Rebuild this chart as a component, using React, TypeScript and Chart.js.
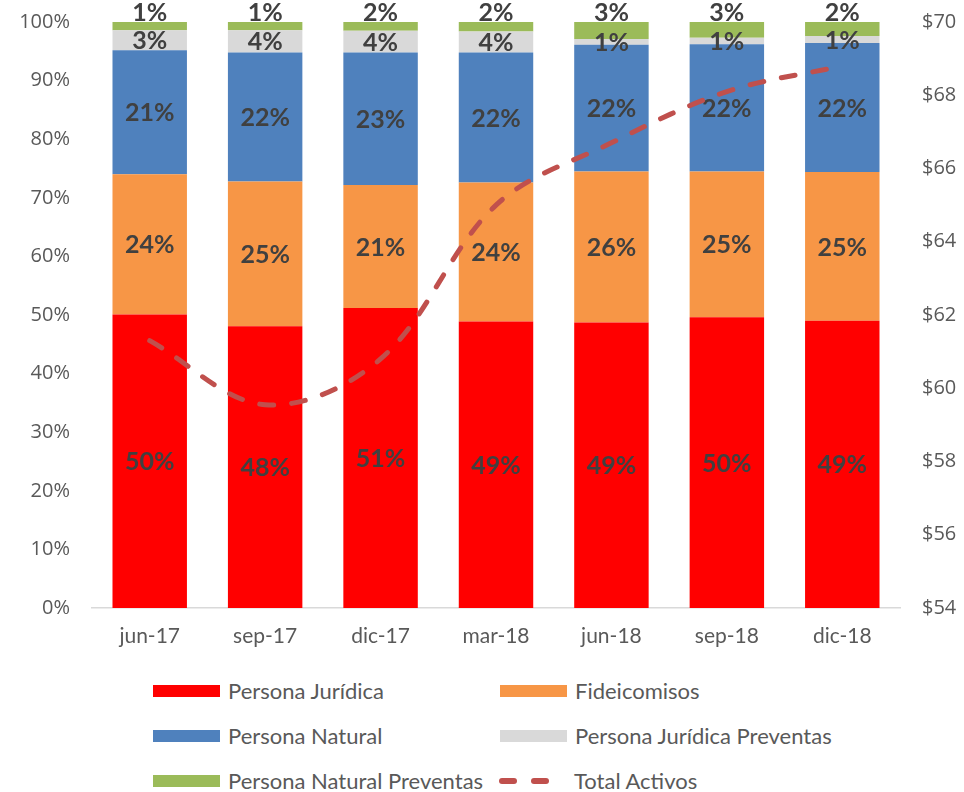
import React, { useEffect, useRef } from "react";
import { Chart, registerables } from "chart.js";
Chart.register(...registerables);

const categories = ["jun-17", "sep-17", "dic-17", "mar-18", "jun-18", "sep-18", "dic-18"];
const personaJuridica = [50.1, 48.1, 51.2, 48.9, 48.7, 49.6, 49.0];
const fideicomisos = [23.9, 24.7, 21.0, 23.7, 25.8, 24.9, 25.4];
const personaNatural = [21.2, 22.0, 22.6, 22.2, 21.6, 21.7, 22.0];
const pjPreventas = [3.4, 3.8, 3.7, 3.6, 1.0, 1.1, 1.2];
const pnPreventas = [1.4, 1.4, 1.5, 1.6, 2.9, 2.7, 2.4];
const totalActivos = [61.3, 59.55, 60.8, 65.0, 66.7, 68.1, 68.8];

const seriesNames = [
  "Persona Jurídica",
  "Fideicomisos",
  "Persona Natural",
  "Persona Jurídica Preventas",
  "Persona Natural Preventas",
];
const seriesColors = ["#FF0000", "#F79646", "#4F81BD", "#D9D9D9", "#9BBB59"];
const lineName = "Total Activos";
const lineColor = "#C0504D";

const LABEL_FONT = "bold 25px Lato, sans-serif";
const TEXT_FAMILY = "Lato, 'Open Sans', sans-serif";

const labelPlugin = {
  id: "segLabels",
  beforeDatasetDraw(chart: any, args: any) {
    if (args.meta.type !== "line") return;
    const ctx = chart.ctx;
    ctx.save();
    ctx.font = LABEL_FONT;
    ctx.fillStyle = "#404040";
    ctx.textAlign = "center";
    chart.data.datasets.forEach((ds: any, di: number) => {
      if (ds.type === "line") return;
      const meta = chart.getDatasetMeta(di);
      meta.data.forEach((el: any, i: number) => {
        const v = ds.data[i];
        const txt = Math.round(v) + "%";
        if (di === 4) {
          ctx.textBaseline = "alphabetic";
          ctx.fillText(txt, el.x, Math.min(el.y, el.base) - 1);
        } else {
          ctx.textBaseline = "middle";
          ctx.fillText(txt, el.x, (el.y + el.base) / 2 + 1);
        }
      });
    });
    ctx.restore();
  },
};

export default function App() {
  const ref = useRef<HTMLCanvasElement>(null);
  useEffect(() => {
    document.body.style.margin = "0";
    const datasets: any[] = [
      personaJuridica,
      fideicomisos,
      personaNatural,
      pjPreventas,
      pnPreventas,
    ].map((d, i) => ({
      type: "bar",
      label: seriesNames[i],
      data: d,
      backgroundColor: seriesColors[i],
      borderWidth: 0,
      yAxisID: "y",
      order: 1,
      categoryPercentage: 1,
      barPercentage: 0.645,
    }));
    datasets.push({
      type: "line",
      label: lineName,
      data: totalActivos,
      borderColor: lineColor,
      borderWidth: 5,
      borderDash: [14, 18],
      borderCapStyle: "round",
      tension: 0.35,
      pointRadius: 0,
      fill: false,
      yAxisID: "y1",
      order: 0,
    });
    const chart = new Chart(ref.current!, {
      type: "bar",
      data: { labels: categories, datasets },
      plugins: [labelPlugin],
      options: {
        responsive: false,
        animation: false,
        layout: { padding: { top: 22, bottom: 0, left: 0, right: 0 } },
        plugins: { legend: { display: false }, tooltip: { enabled: false } },
        scales: {
          x: {
            stacked: true,
            grid: { display: false, drawTicks: false },
            border: { display: true, color: "#D9D9D9", width: 1.5 },
            ticks: {
              padding: 16,
              color: "#595959",
              font: { family: TEXT_FAMILY, size: 21 },
            },
            afterFit: (a: any) => {
              a.height = 52;
            },
          },
          y: {
            stacked: true,
            min: 0,
            max: 100,
            position: "left",
            grid: { display: false, drawTicks: false },
            border: { display: false },
            ticks: {
              stepSize: 10,
              padding: 22,
              color: "#595959",
              font: { family: "'Open Sans', sans-serif", size: 20 },
              callback: (v: any) => v + "%",
            },
            afterFit: (a: any) => {
              a.width = 92;
              a.paddingTop = 0;
              a.paddingBottom = 0;
            },
          },
          y1: {
            min: 54,
            max: 70,
            position: "right",
            grid: { display: false, drawTicks: false },
            border: { display: false },
            ticks: {
              stepSize: 2,
              padding: 22,
              color: "#595959",
              font: { family: "'Open Sans', sans-serif", size: 20 },
              callback: (v: any) => "$" + v,
            },
            afterFit: (a: any) => {
              a.width = 64;
              a.paddingTop = 0;
              a.paddingBottom = 0;
            },
          },
        },
      } as any,
    });
    return () => chart.destroy();
  }, []);

  const legendItems = [
    { name: seriesNames[0], color: seriesColors[0], x: 153, y: 691 },
    { name: seriesNames[1], color: seriesColors[1], x: 500, y: 691 },
    { name: seriesNames[2], color: seriesColors[2], x: 153, y: 736 },
    { name: seriesNames[3], color: seriesColors[3], x: 500, y: 736 },
    { name: seriesNames[4], color: seriesColors[4], x: 153, y: 781 },
  ];

  const textStyle: React.CSSProperties = {
    position: "absolute",
    height: 28,
    lineHeight: "28px",
    fontFamily: TEXT_FAMILY,
    fontSize: 22,
    color: "#595959",
    whiteSpace: "nowrap",
  };

  return (
    <div style={{ position: "relative", width: 964, height: 792, background: "#fff" }}>
      <canvas ref={ref} width={964} height={660} style={{ display: "block" }} />
      {legendItems.map((it) => (
        <div key={it.name}>
          <div
            style={{
              position: "absolute",
              left: it.x,
              top: it.y - 6,
              width: 67,
              height: 12,
              background: it.color,
            }}
          />
          <div style={{ ...textStyle, left: it.x + 75, top: it.y - 14 }}>{it.name}</div>
        </div>
      ))}
      <div
        style={{
          position: "absolute",
          left: 499,
          top: 778,
          width: 18,
          height: 6,
          borderRadius: 3,
          background: lineColor,
        }}
      />
      <div
        style={{
          position: "absolute",
          left: 531,
          top: 778,
          width: 18,
          height: 6,
          borderRadius: 3,
          background: lineColor,
        }}
      />
      <div style={{ ...textStyle, left: 574, top: 781 - 14 }}>{lineName}</div>
    </div>
  );
}
